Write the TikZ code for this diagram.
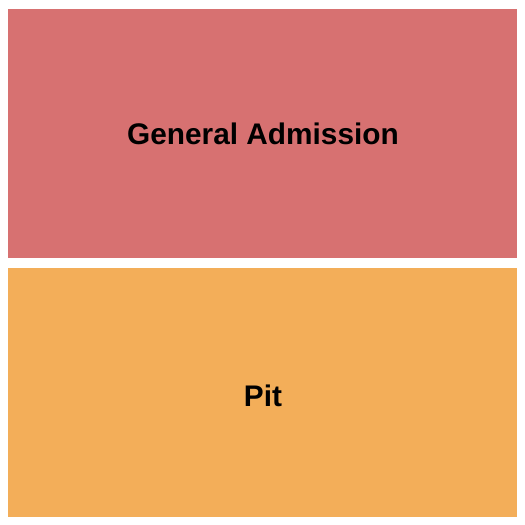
\documentclass[tikz,border=0pt]{standalone}
\usepackage{fontspec}
\setmainfont{Liberation Sans}
\usepackage{tikz}
\usetikzlibrary{positioning}
\definecolor{garose}{HTML}{D77171}
\definecolor{pitorange}{HTML}{F3AE59}

\begin{document}
\begin{tikzpicture}[x=1pt,y=-1pt,
    section/.style={inner sep=0pt, outer sep=0pt, minimum width=509pt, minimum height=249pt, anchor=north west},
    label/.style={inner sep=0pt, anchor=base, font=\fontsize{29.8}{30}\selectfont\bfseries}]
      \useasboundingbox (0,0) rectangle (525,525);
      \node[section, fill=garose] (ga) at (8,9) {};
      \node[section, fill=pitorange] (pit) at (8,268) {};
      \node[label] (galabel) at (263,144.5) {General Admission};
      \node[label] (pitlabel) at (263,406) {Pit};
    \end{tikzpicture}
\end{document}
